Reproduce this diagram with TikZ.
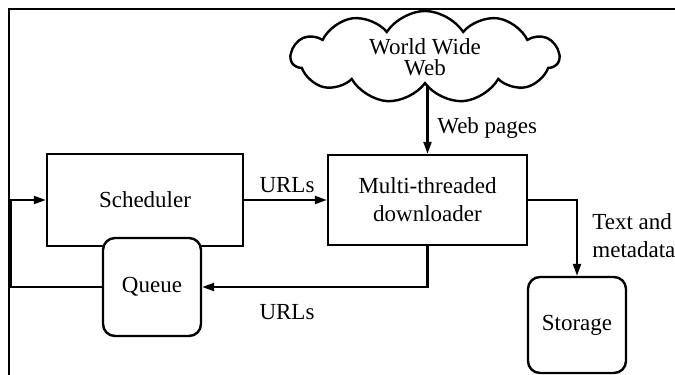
\documentclass[tikz,border=0pt]{standalone}
\usepackage{fontspec}
\setmainfont{Liberation Serif}
\usetikzlibrary{shapes.symbols,arrows.meta}
\begin{document}
\begin{tikzpicture}[x=0.5pt,y=-0.5pt,
  font=\fontsize{11.5}{14}\selectfont,
  box/.style={draw,line width=1.2pt,fill=white,inner sep=0pt,align=center},
  rbox/.style={box,rounded corners=6pt},
  arr/.style={line width=1.1pt,-{Triangle[length=6pt,width=4pt]}},
  lbl/.style={inner sep=0pt}]
\useasboundingbox (0,0) rectangle (675,375);
\draw[line width=1.4pt] (9,375) -- (9,9) -- (675,9);
\node[box,minimum width=98pt,minimum height=46pt] (sched) at (145,200) {Scheduler};
\node[rbox,minimum width=49pt,minimum height=49pt] (queue) at (152,287) {Queue};
\node[box,minimum width=99.5pt,minimum height=45pt] (down) at (427.5,200) {Multi-threaded\\downloader};
\node[rbox,minimum width=49pt,minimum height=48pt] (stor) at (577,325) {Storage};
\node[cloud,draw,line width=1.2pt,cloud puffs=11,cloud puff arc=115,aspect=3,
  minimum width=134pt,minimum height=46pt,inner sep=0pt,align=center,
  font=\fontsize{11.5}{10.5}\selectfont] (www) at (425,57) {World Wide\\Web};
\draw[arr] (sched.east) -- (down.west);
\draw[arr] (www.south -| down.north) -- (down.north);
\draw[arr] (down.south) |- (queue.east);
\draw[arr] (down.east) -| (stor.north);
\coordinate (loopB) at (11,287);
\coordinate (loopT) at (11,200);
\draw[arr] (queue.west) -- (loopB) -- (loopT) -- (sched.west);
\node[lbl] (u1) at (287,185) {URLs};
\node[lbl] (u2) at (287,312) {URLs};
\node[lbl,anchor=west] (wp) at (437,128) {Web pages};
\node[lbl,anchor=west,align=left] (tm) at (592,236) {Text and\\metadata};
\end{tikzpicture}
\end{document}
